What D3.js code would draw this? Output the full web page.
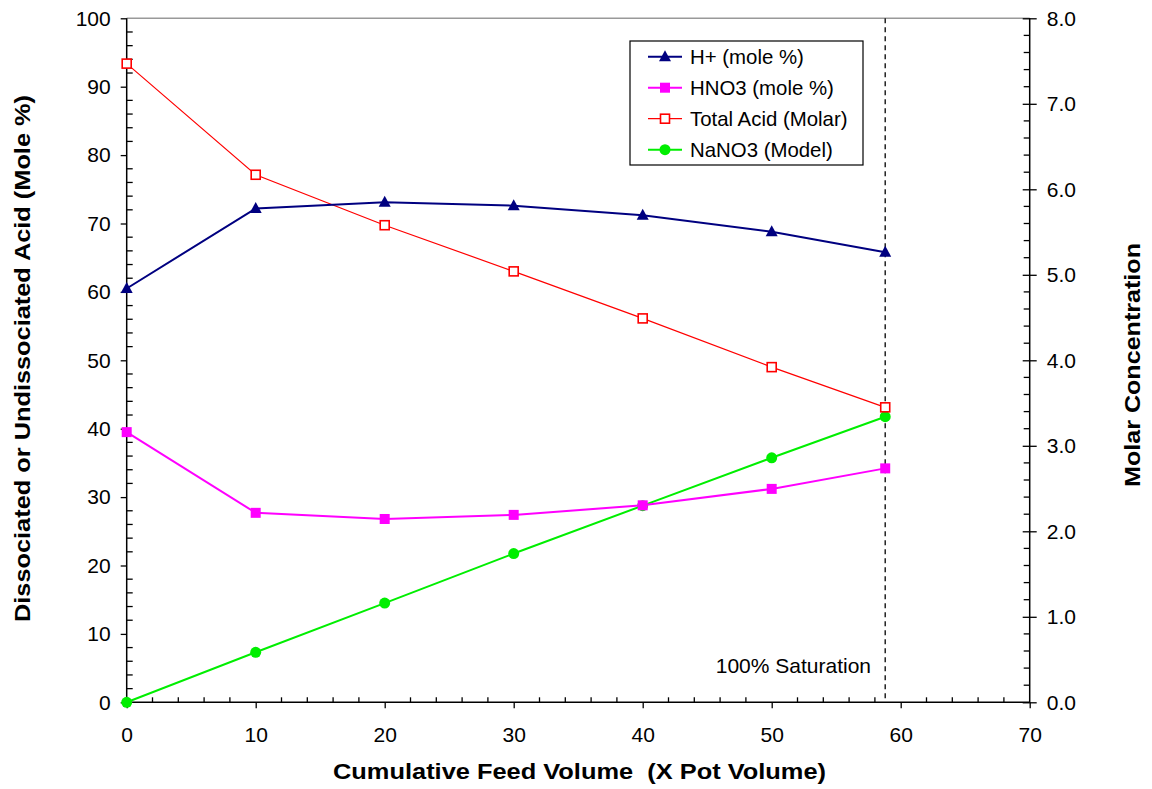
<!DOCTYPE html>
<html><head><meta charset="utf-8">
<script src="https://cdn.jsdelivr.net/npm/d3@7"></script>
<style>
body{margin:0;background:#fff;}
text{font-family:"Liberation Sans",Arial,sans-serif;fill:#000;}
</style></head>
<body>
<svg id="c" width="1152" height="789"></svg>
<script>
const feedVolume = [0, 10, 20, 30, 40, 50, 58.8];
const hPlus      = [60.5, 72.2, 73.1, 72.6, 71.2, 68.8, 65.8];
const hno3       = [39.5, 27.7, 26.8, 27.4, 28.8, 31.2, 34.2];
const totalAcid  = [7.47, 6.17, 5.58, 5.04, 4.49, 3.92, 3.45];
const nano3      = [0, 0.585, 1.16, 1.74, 2.30, 2.86, 3.34];
const saturationX = 58.8;
const xTicks = [0, 10, 20, 30, 40, 50, 60, 70];
const yLeftTicks = [0, 10, 20, 30, 40, 50, 60, 70, 80, 90, 100];
const yRightTicks = [0, 1, 2, 3, 4, 5, 6, 7, 8];
const legendLabels = ["H+ (mole %)", "HNO3 (mole %)", "Total Acid (Molar)", "NaNO3 (Model)"];

const L = 126.7, R = 1029.7, T = 18.3, B = 702.3;
const FONT = '"Liberation Sans", Arial, sans-serif';
const svg = d3.select("#c");
const x = d3.scaleLinear().domain([0, 70]).range([L, R]);
const yL = d3.scaleLinear().domain([0, 100]).range([B, T]);
const yR = d3.scaleLinear().domain([0, 8]).range([B, T]);

// top border
svg.append("line").attr("x1", L).attr("x2", R).attr("y1", T).attr("y2", T)
  .attr("stroke", "#999").attr("stroke-width", 1.5);

// minor ticks
const g = svg.append("g").attr("stroke", "#000").attr("stroke-width", 1.3);
d3.range(0, 70.01, 2).forEach(v => {
  if (v % 10 !== 0) g.append("line").attr("x1", x(v)).attr("x2", x(v)).attr("y1", B).attr("y2", B - 5);
});
d3.range(0, 100.01, 2).forEach(v => {
  if (v % 10 !== 0) g.append("line").attr("x1", L).attr("x2", L + 6).attr("y1", yL(v)).attr("y2", yL(v));
});
d3.range(0, 8.001, 0.2).forEach(v => {
  const r = Math.round(v * 10) / 10;
  if (Math.abs(r - Math.round(r)) > 0.01) g.append("line").attr("x1", R).attr("x2", R - 6).attr("y1", yR(r)).attr("y2", yR(r));
});

// axes
const xAxis = svg.append("g").attr("transform", `translate(0,${B})`)
  .call(d3.axisBottom(x).tickValues(xTicks).tickSize(6).tickPadding(19).tickFormat(d3.format("d")));
const yAxisL = svg.append("g").attr("transform", `translate(${L},0)`)
  .call(d3.axisLeft(yL).tickValues(yLeftTicks).tickSize(6).tickPadding(10).tickFormat(d3.format("d")));
const yAxisR = svg.append("g").attr("transform", `translate(${R},0)`)
  .call(d3.axisRight(yR).tickValues(yRightTicks).tickSize(7).tickPadding(10).tickFormat(d3.format(".1f")));
yAxisR.selectAll(".tick line").attr("x1", -7);
[xAxis, yAxisL, yAxisR].forEach(a => {
  a.attr("font-size", 21).attr("font-family", FONT);
  a.select(".domain").attr("stroke", "#000").attr("stroke-width", 1.5);
  a.selectAll(".tick line").attr("stroke", "#000").attr("stroke-width", 1.3);
  a.selectAll("text").attr("font-size", 21).attr("font-family", FONT).attr("fill", "#000");
});
xAxis.selectAll("text").attr("dy", "0.71em");
xAxis.select(".domain").attr("d", `M${L},0H${R}`);
yAxisL.select(".domain").attr("d", `M0,${T}V${B}`);
yAxisR.select(".domain").attr("d", `M0,${T}V${B}`);

// saturation line
svg.append("line").attr("x1", x(saturationX)).attr("x2", x(saturationX)).attr("y1", T).attr("y2", B)
  .attr("stroke", "#222").attr("stroke-width", 1.5).attr("stroke-dasharray", "5,4");
svg.append("text").attr("x", 871).attr("y", 673).attr("text-anchor", "end")
  .attr("font-size", 21).text("100% Saturation");

// series
const series = [
  {vals: hPlus, y: yL, color: "#000080", w: 2, marker: "tri"},
  {vals: hno3, y: yL, color: "#ff00ff", w: 2, marker: "sq"},
  {vals: totalAcid, y: yR, color: "#ff0000", w: 1.2, marker: "osq"},
  {vals: nano3, y: yR, color: "#00ee00", w: 2, marker: "circ"}
];
function drawMarker(sel, m, color, cx, cy) {
  if (m === "tri") sel.append("path").attr("d", `M${cx},${cy-6.5}L${cx+6},${cy+4.5}L${cx-6},${cy+4.5}Z`).attr("fill", color);
  else if (m === "sq") sel.append("rect").attr("x", cx-5).attr("y", cy-5).attr("width", 10).attr("height", 10).attr("fill", color);
  else if (m === "osq") sel.append("rect").attr("x", cx-4.5).attr("y", cy-4.5).attr("width", 9).attr("height", 9).attr("fill", "#fff").attr("stroke", color).attr("stroke-width", 1.6);
  else sel.append("circle").attr("cx", cx).attr("cy", cy).attr("r", 5.5).attr("fill", color);
}
const order = [3, 2, 1, 0];
order.forEach(i => {
  const s = series[i];
  const line = d3.line().x((d, j) => x(feedVolume[j])).y(d => s.y(d));
  svg.append("path").datum(s.vals).attr("d", line).attr("fill", "none")
    .attr("stroke", s.color).attr("stroke-width", s.w);
  const mg = svg.append("g");
  s.vals.forEach((v, j) => drawMarker(mg, s.marker, s.color, x(feedVolume[j]), s.y(v)));
});

// legend
const lg = svg.append("g");
lg.append("rect").attr("x", 630).attr("y", 41).attr("width", 233).attr("height", 124)
  .attr("fill", "#fff").attr("stroke", "#000").attr("stroke-width", 1.2);
legendLabels.forEach((lab, i) => {
  const cy = 56.7 + i * 31;
  const s = series[i];
  lg.append("line").attr("x1", 648).attr("x2", 682).attr("y1", cy).attr("y2", cy).attr("stroke", s.color).attr("stroke-width", s.w);
  drawMarker(lg, s.marker, s.color, 665, cy);
  lg.append("text").attr("x", 690).attr("y", cy + 7.5).attr("font-size", 20.4).text(lab);
});

// titles
svg.append("text").attr("x", 333).attr("y", 778.5)
  .attr("font-size", 22).attr("font-weight", "bold")
  .attr("textLength", 493).attr("lengthAdjust", "spacingAndGlyphs")
  .style("white-space", "pre").text("Cumulative Feed Volume  (X Pot Volume)");
svg.append("text").attr("transform", "translate(30,622) rotate(-90)")
  .attr("font-size", 22).attr("font-weight", "bold")
  .attr("textLength", 527).attr("lengthAdjust", "spacingAndGlyphs")
  .text("Dissociated or Undissociated Acid (Mole %)");
svg.append("text").attr("transform", "translate(1140,487) rotate(-90)")
  .attr("font-size", 22).attr("font-weight", "bold")
  .attr("textLength", 244).attr("lengthAdjust", "spacingAndGlyphs")
  .text("Molar Concentration");
</script>
</body></html>
